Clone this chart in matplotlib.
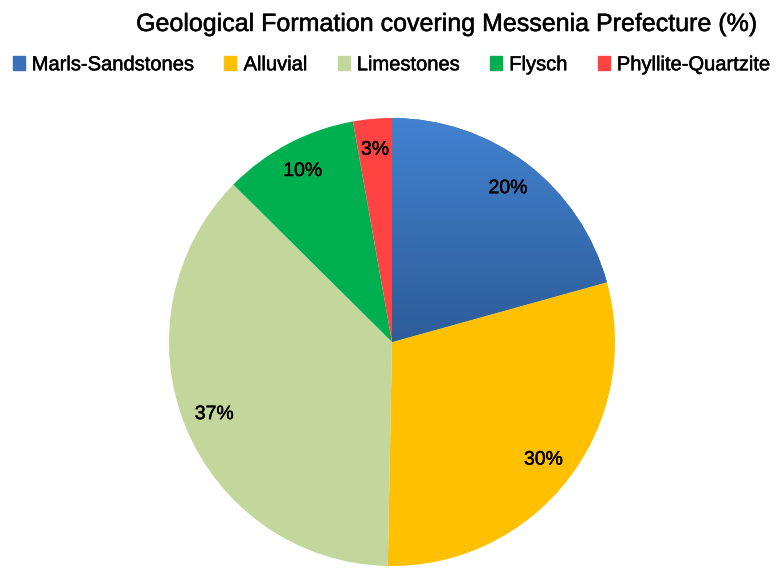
import numpy as np
import matplotlib.pyplot as plt
import matplotlib.patches as mpatches
import matplotlib.patheffects as pe
from matplotlib.colors import to_rgb

plt.rcParams['font.family'] = ['Liberation Sans', 'DejaVu Sans']

title = "Geological Formation covering Messenia Prefecture (%)"
labels = ["Marls-Sandstones", "Alluvial", "Limestones", "Flysch", "Phyllite-Quartzite"]
values = [20.7, 29.6, 37.1, 9.8, 2.8]
shown_pct = [20, 30, 37, 10, 3]
colors = ["#3A70B8", "#FFC000", "#C3D69B", "#00B050", "#FF4343"]

fig = plt.figure(figsize=(7.83, 5.68), dpi=100)
fig.patch.set_facecolor("white")

# slightly heavier text, like the original rendering
heavy = [pe.withStroke(linewidth=0.35, foreground="black")]

# axes box = bounding box of the circle
ax = fig.add_axes([169 / 783, 2 / 568, 446 / 783, 448 / 568])
wedges, texts = ax.pie(values, colors=colors, startangle=90, counterclock=False,
                       radius=1.0, wedgeprops=dict(linewidth=0))
ax.set_xlim(-1, 1)
ax.set_ylim(-1, 1)
ax.set_aspect("equal")
ax.axis("off")

# vertical gradient on the first wedge
top = np.array(to_rgb("#4282D0"))
bot = np.array(to_rgb("#2D5C99"))
t = np.linspace(0, 1, 256)[:, None]
grad = (top * (1 - t) + bot * t)[:, None, :]
img = ax.imshow(grad, extent=(0, 1, 0, 1), aspect="auto", zorder=1.5, interpolation="bilinear")
img.set_clip_path(wedges[0])
ax.set_xlim(-1, 1)
ax.set_ylim(-1, 1)

# percentage labels
for w, p in zip(wedges, shown_pct):
    ang = np.deg2rad((w.theta1 + w.theta2) / 2)
    r = 0.86
    ax.text(r * np.cos(ang), r * np.sin(ang), f"{p}%", ha="center", va="center",
            fontsize=14, color="black", zorder=3, path_effects=heavy)

fig.text(0.57, 1 - 31 / 568, title, ha="center", va="baseline", fontsize=18,
         path_effects=heavy)

handles = [mpatches.Patch(color=c, label=l) for c, l in zip(colors, labels)]
leg = fig.legend(handles=handles, loc="center", bbox_to_anchor=(0.5, 0.886), ncol=5,
                 frameon=False, fontsize=14.5, handlelength=0.6, handleheight=0.7,
                 handletextpad=0.35, columnspacing=1.5, borderaxespad=0)
for txt in leg.get_texts():
    txt.set_path_effects(heavy)

fig.savefig("out.png", dpi=100, facecolor="white")
